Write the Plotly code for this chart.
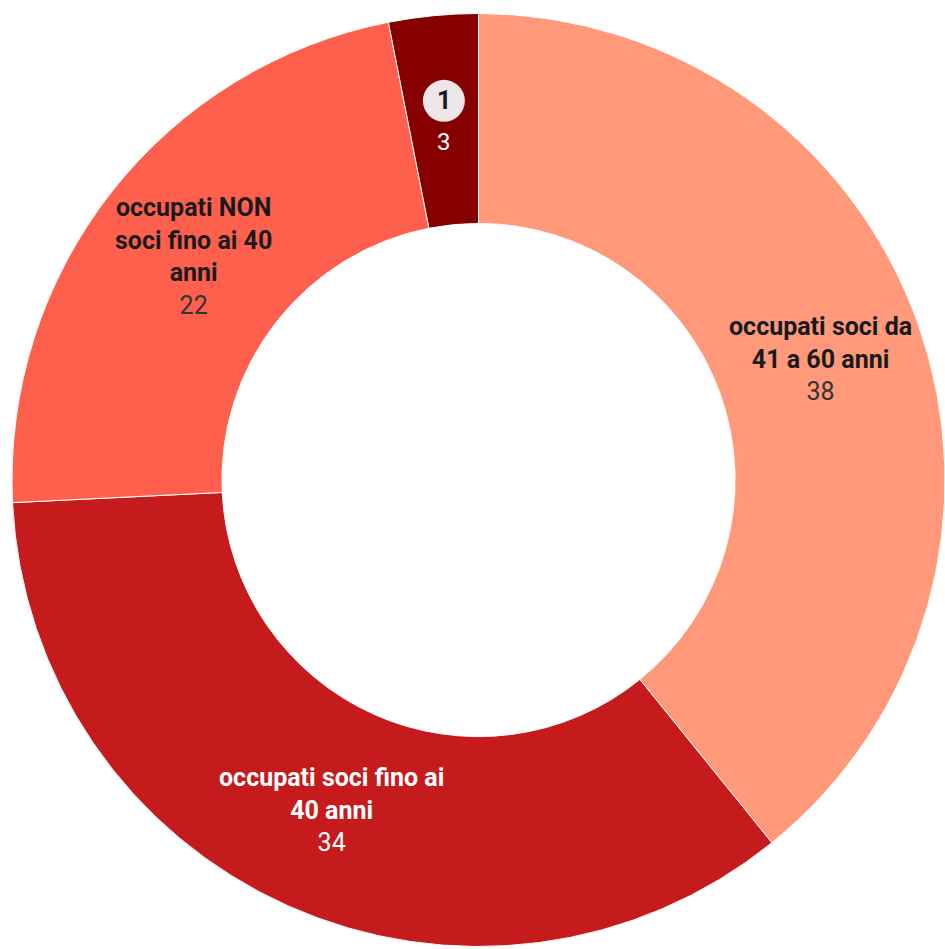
import math
import plotly.graph_objects as go

# Workforce composition (count of people per group)
categories = [
    "occupati soci da 41 a 60 anni",
    "occupati soci fino ai 40 anni",
    "occupati NON soci fino ai 40 anni",
    "1",
]
values = [38, 34, 22, 3]
# Line-broken labels as shown inside each slice
display_labels = [
    "occupati soci da<br>41 a 60 anni",
    "occupati soci fino ai<br>40 anni",
    "occupati NON<br>soci fino ai 40<br>anni",
    "1",
]
colors = ["#FF997A", "#C61B1D", "#FF604E", "#860000"]
label_colors = ["#1a1a1a", "#ffffff", "#1a1a1a", "#1a1a1a"]
value_colors = ["#333333", "#ffffff", "#333333", "#ffffff"]

W, H = 945, 949
CX, CY, R = 479, 480, 467
HOLE = 0.55
FONT = "Roboto, Arial, sans-serif"
FS = 25

fig = go.Figure(
    go.Pie(
        labels=categories,
        values=values,
        hole=HOLE,
        sort=False,
        direction="clockwise",
        rotation=0,
        marker=dict(colors=colors, line=dict(color="#ffffff", width=1)),
        textinfo="none",
        hoverinfo="skip",
        showlegend=False,
        domain=dict(x=[(CX - R) / W, min(1.0, (CX + R) / W)],
                    y=[1 - (CY + R) / H, 1 - (CY - R) / H]),
    )
)

# Place labels at the middle of each ring sector
total = sum(values)
r_mid = R * (1 + HOLE) / 2
annotations, shapes = [], []
start = 0.0
for i, v in enumerate(values):
    span = v / total * 360
    mid = math.radians(start + span / 2)
    start += span
    px = CX + r_mid * math.sin(mid)
    py = CY - r_mid * math.cos(mid)
    if i == 3:
        # small slice: numbered badge above the value
        bx, by, br = px, py - 19, 21
        shapes.append(dict(type="circle", xref="paper", yref="paper",
                           x0=(bx - br) / W, x1=(bx + br) / W,
                           y0=1 - (by + br) / H, y1=1 - (by - br) / H,
                           fillcolor="#EEE6E8", line=dict(width=0)))
        annotations.append(dict(x=bx / W, y=1 - by / H, xref="paper", yref="paper",
                                text=f"<b>{display_labels[i]}</b>", showarrow=False,
                                font=dict(family=FONT, size=FS, color=label_colors[i]),
                                xanchor="center", yanchor="middle"))
        annotations.append(dict(x=px / W, y=1 - (py + 22) / H, xref="paper", yref="paper",
                                text=f"{v}", showarrow=False,
                                font=dict(family=FONT, size=FS - 1, color=value_colors[i]),
                                xanchor="center", yanchor="middle"))
    else:
        text = (f"<b>{display_labels[i]}</b><br>"
                f"<span style='font-weight:normal;color:{value_colors[i]}'>{v}</span>")
        annotations.append(dict(x=px / W, y=1 - py / H, xref="paper", yref="paper",
                                text=text, showarrow=False, align="center",
                                font=dict(family=FONT, size=FS, color=label_colors[i]),
                                xanchor="center", yanchor="middle"))

fig.update_layout(
    width=W, height=H,
    margin=dict(l=0, r=0, t=0, b=0),
    paper_bgcolor="#ffffff",
    plot_bgcolor="#ffffff",
    annotations=annotations,
    shapes=shapes,
)

fig.write_html("out.html")
